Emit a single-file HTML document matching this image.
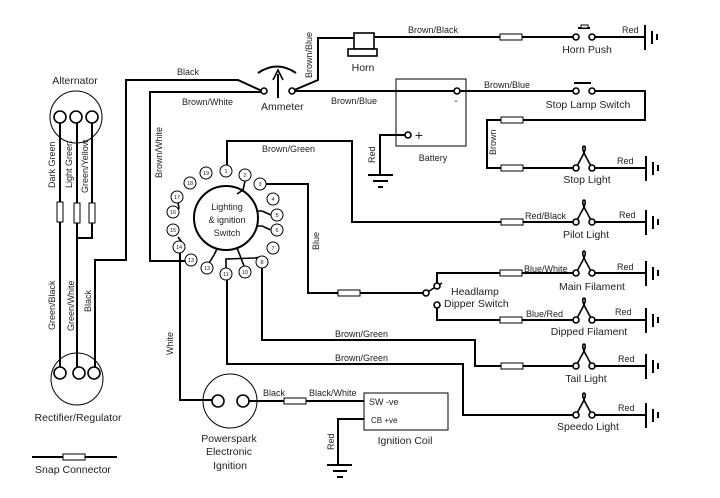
<!DOCTYPE html>
<html><head><meta charset="utf-8"><style>
html,body{margin:0;padding:0;background:#fff;}
svg{display:block;}
text{font-family:"Liberation Sans",sans-serif;fill:#222;}
.w{fill:none;stroke:#000;stroke-width:2;}
.t{fill:none;stroke:#000;stroke-width:1;}
.c{fill:#fff;stroke:#000;stroke-width:1.6;}
.p{fill:#fff;stroke:#000;stroke-width:1;}
.s{font-size:9px;}
.m{font-size:10.5px;}
.n{font-size:5.5px;}
</style></head><body>
<svg width="720" height="498" viewBox="0 0 720 498" xmlns="http://www.w3.org/2000/svg">
<defs>
<g id="gnd"><line x1="0" y1="-12" x2="0" y2="13" stroke="#000" stroke-width="2"/><line x1="7" y1="-6" x2="7" y2="7" stroke="#000" stroke-width="2"/><line x1="12" y1="-3" x2="12" y2="3" stroke="#000" stroke-width="2"/></g>
<g id="bulb"><path d="M0,0 L7,-13 Q11,-21 8,-22 Q5,-21 9,-13 L16,0" fill="none" stroke="#000" stroke-width="1.6"/><circle cx="0" cy="0" r="3" class="c"/><circle cx="16" cy="0" r="3" class="c"/></g>
<rect id="sc" x="0" y="-3" width="22" height="6" fill="#fff" stroke="#000" stroke-width="1"/>
</defs>

<!-- Alternator -->
<text x="75" y="84" class="m" text-anchor="middle">Alternator</text>
<circle cx="76" cy="117" r="26" class="t"/>
<polyline class="w" points="60,123 60,368"/>
<polyline class="w" points="77,123 77,368"/>
<polyline class="w" points="92,123 92,238 77,238"/>
<circle cx="60" cy="117" r="6" class="c"/><circle cx="76" cy="117" r="6" class="c"/><circle cx="92" cy="117" r="6" class="c"/>
<rect x="57" y="202" width="6" height="20" class="p"/><rect x="74" y="203" width="6" height="20" class="p"/><rect x="89" y="203" width="6" height="20" class="p"/>
<text transform="translate(55,188) rotate(-90)" class="s">Dark Green</text>
<text transform="translate(72,188) rotate(-90)" class="s">Light Green</text>
<text transform="translate(88,193) rotate(-90)" class="s">Green/Yellow</text>
<text transform="translate(55,330) rotate(-90)" class="s">Green/Black</text>
<text transform="translate(74,331) rotate(-90)" class="s">Green/White</text>
<text transform="translate(91,312) rotate(-90)" class="s">Black</text>

<!-- Rectifier -->
<polyline class="w" points="95,368 95,260 126,260 126,80 238,80 262,91"/>
<circle cx="77" cy="379" r="26" class="t"/>
<circle cx="60" cy="373" r="6" class="c"/><circle cx="79" cy="373" r="6" class="c"/><circle cx="94" cy="373" r="6" class="c"/>
<text x="78" y="421" class="m" text-anchor="middle">Rectifier/Regulator</text>

<!-- Snap legend -->
<line x1="32" y1="457" x2="117" y2="457" stroke="#000" stroke-width="2"/>
<rect x="63" y="454" width="22" height="6" class="p"/>
<text x="73" y="473" class="m" text-anchor="middle">Snap Connector</text>

<!-- Ammeter -->
<text x="177" y="75" class="s">Black</text>
<polyline class="w" points="262,92 150,92 150,261 186,261"/>
<text x="182" y="105" class="s">Brown/White</text>
<text transform="translate(162,178) rotate(-90)" class="s">Brown/White</text>
<path d="M258,73 Q277,60 296,73" class="w" stroke-width="1.6"/>
<line x1="278" y1="98" x2="278" y2="74" stroke="#000" stroke-width="2"/>
<path d="M273,80 L278,70 L283,80" fill="none" stroke="#000" stroke-width="1.6"/>
<text x="261" y="110" class="m">Ammeter</text>
<polyline class="w" points="292,91 318,80 318,38 354,38"/>
<text transform="translate(312,78) rotate(-90)" class="s">Brown/Blue</text>
<line x1="292" y1="91" x2="457" y2="91" stroke="#000" stroke-width="2"/>
<text x="331" y="104" class="s">Brown/Blue</text>
<circle cx="264" cy="91" r="3" class="c"/><circle cx="292" cy="91" r="3" class="c"/>

<!-- Horn -->
<rect x="354" y="33" width="20" height="16" fill="#fff" stroke="#000" stroke-width="1.6"/>
<rect x="348" y="49" width="29" height="7" fill="#fff" stroke="#000" stroke-width="1.6"/>
<text x="363" y="71" class="m" text-anchor="middle">Horn</text>
<polyline class="w" points="374,37 575,37"/>
<use href="#sc" x="500" y="37"/>
<text x="408" y="33" class="s">Brown/Black</text>
<line x1="578" y1="28" x2="590" y2="28" stroke="#000" stroke-width="2"/><rect x="581" y="25" width="7" height="3" fill="#fff" stroke="#000"/>
<circle cx="576" cy="37" r="3" class="c"/><circle cx="592" cy="37" r="3" class="c"/>
<line x1="595" y1="37" x2="645" y2="37" stroke="#000" stroke-width="2"/>
<text x="622" y="33" class="s">Red</text>
<use href="#gnd" x="645" y="37"/>
<text x="587" y="53" class="m" text-anchor="middle">Horn Push</text>

<!-- Battery -->
<rect x="396" y="79" width="70" height="67" class="t"/>
<circle cx="457" cy="91" r="3" class="c"/>
<text x="456" y="104" class="m" text-anchor="middle">-</text>
<circle cx="408" cy="135" r="3" class="c"/>
<text x="419" y="140" class="m" text-anchor="middle" style="font-size:14px">+</text>
<text x="433" y="161" class="s" text-anchor="middle">Battery</text>
<polyline class="w" points="405,135 380,135 380,175"/>
<line x1="368" y1="175" x2="393" y2="175" stroke="#000" stroke-width="2"/>
<line x1="373" y1="181" x2="388" y2="181" stroke="#000" stroke-width="2"/>
<line x1="378" y1="187" x2="383" y2="187" stroke="#000" stroke-width="2"/>
<text transform="translate(375,163) rotate(-90)" class="s">Red</text>

<!-- Stop lamp -->
<polyline class="w" points="460,91 575,91"/>
<text x="484" y="88" class="s">Brown/Blue</text>
<line x1="574" y1="83" x2="591" y2="83" stroke="#000" stroke-width="2"/>
<circle cx="576" cy="91" r="3" class="c"/><circle cx="592" cy="91" r="3" class="c"/>
<polyline class="w" points="595,91 645,91 645,120 487,120 487,168 574,168"/>
<use href="#sc" x="501" y="120"/><use href="#sc" x="501" y="168"/>
<text transform="translate(496,155) rotate(-90)" class="s">Brown</text>
<text x="588" y="108" class="m" text-anchor="middle">Stop Lamp Switch</text>
<use href="#bulb" x="576" y="168"/>
<line x1="594" y1="168" x2="645" y2="168" stroke="#000" stroke-width="2"/>
<text x="617" y="164" class="s">Red</text>
<use href="#gnd" x="646" y="168"/>
<text x="587" y="183" class="m" text-anchor="middle">Stop Light</text>

<!-- Switch -->
<circle cx="226" cy="218" r="32" fill="none" stroke="#000" stroke-width="2"/>
<text x="227" y="210" class="s" text-anchor="middle">Lighting</text>
<text x="227" y="223" class="s" text-anchor="middle">&amp; ignition</text>
<text x="227" y="236" class="s" text-anchor="middle">Switch</text>
<polyline class="w" points="227,171 227,141 352,141 352,222 576,222"/>
<use href="#sc" x="501" y="222"/>
<text x="262" y="152" class="s">Brown/Green</text>
<text x="525" y="219" class="s">Red/Black</text>
<use href="#bulb" x="576" y="222"/>
<line x1="594" y1="222" x2="645" y2="222" stroke="#000" stroke-width="2"/>
<text x="619" y="218" class="s">Red</text>
<use href="#gnd" x="646" y="222"/>
<text x="586" y="238" class="m" text-anchor="middle">Pilot Light</text>

<polyline class="w" points="260,184 308,184 308,293 424,293"/>
<use href="#sc" x="338" y="293"/>
<text transform="translate(319,250) rotate(-90)" class="s">Blue</text>
<line x1="426" y1="293" x2="442" y2="283" stroke="#000" stroke-width="1.6"/>
<polyline class="w" points="437,283 437,273 576,273"/>
<polyline class="w" points="437,307 437,320 576,320"/>
<circle cx="426" cy="293" r="3" class="c"/><circle cx="437" cy="286" r="3" class="c"/><circle cx="437" cy="305" r="3" class="c"/>
<text x="451" y="295" class="m">Headlamp</text>
<text x="444" y="307" class="m">Dipper Switch</text>
<use href="#sc" x="500" y="273"/><use href="#sc" x="500" y="320"/>
<text x="524" y="272" class="s">Blue/White</text>
<text x="526" y="317" class="s">Blue/Red</text>
<use href="#bulb" x="576" y="273"/><use href="#bulb" x="576" y="320"/>
<line x1="594" y1="273" x2="645" y2="273" stroke="#000" stroke-width="2"/>
<line x1="594" y1="320" x2="645" y2="320" stroke="#000" stroke-width="2"/>
<text x="617" y="270" class="s">Red</text><text x="615" y="315" class="s">Red</text>
<use href="#gnd" x="646" y="273"/><use href="#gnd" x="646" y="320"/>
<text x="592" y="290" class="m" text-anchor="middle">Main Filament</text>
<text x="589" y="335" class="m" text-anchor="middle">Dipped Filament</text>

<polyline class="w" points="262,262 262,340 475,340 475,366 576,366"/>
<use href="#sc" x="501" y="366"/>
<text x="335" y="337" class="s">Brown/Green</text>
<use href="#bulb" x="576" y="366"/>
<line x1="594" y1="366" x2="645" y2="366" stroke="#000" stroke-width="2"/>
<text x="618" y="362" class="s">Red</text>
<use href="#gnd" x="646" y="366"/>
<text x="586" y="382" class="m" text-anchor="middle">Tail Light</text>

<polyline class="w" points="227,275 227,364 463,364 463,415 576,415"/>
<text x="335" y="361" class="s">Brown/Green</text>
<use href="#bulb" x="576" y="415"/>
<line x1="594" y1="415" x2="645" y2="415" stroke="#000" stroke-width="2"/>
<text x="618" y="411" class="s">Red</text>
<use href="#gnd" x="646" y="415"/>
<text x="588" y="430" class="m" text-anchor="middle">Speedo Light</text>

<!-- switch internal connections -->
<g stroke="#000" stroke-width="1.6" fill="none">
<polyline points="245,181 243,190 237,194"/>
<polyline points="256,211 262,211 271,215"/>
<polyline points="256,226 262,226 271,230"/>
<polyline points="178,203 179,208 175,210"/>
<polyline points="178,237 181,241 180,241"/>
<polyline points="217,249 214,255 209,263"/>
<polyline points="237,248 241,258 244,266"/>
<polyline points="226,268 226,259 255,258 260,257"/>
</g>
<polyline class="w" points="180,253 180,400 212,400"/>
<text transform="translate(173,355) rotate(-90)" class="s">White</text>
<g class="n">
<circle cx="226" cy="171" r="6" class="p"/><text x="226" y="173" text-anchor="middle">1</text>
<circle cx="245" cy="175" r="6" class="p"/><text x="245" y="177" text-anchor="middle">2</text>
<circle cx="260" cy="184" r="6" class="p"/><text x="260" y="186" text-anchor="middle">3</text>
<circle cx="273" cy="199" r="6" class="p"/><text x="273" y="201" text-anchor="middle">4</text>
<circle cx="277" cy="215" r="6" class="p"/><text x="277" y="217" text-anchor="middle">5</text>
<circle cx="277" cy="230" r="6" class="p"/><text x="277" y="232" text-anchor="middle">6</text>
<circle cx="273" cy="248" r="6" class="p"/><text x="273" y="250" text-anchor="middle">7</text>
<circle cx="262" cy="262" r="6" class="p"/><text x="262" y="264" text-anchor="middle">8</text>
<circle cx="245" cy="272" r="6" class="p"/><text x="245" y="274" text-anchor="middle">10</text>
<circle cx="226" cy="274" r="6" class="p"/><text x="226" y="276" text-anchor="middle">11</text>
<circle cx="207" cy="268" r="6" class="p"/><text x="207" y="270" text-anchor="middle">12</text>
<circle cx="191" cy="260" r="6" class="p"/><text x="191" y="262" text-anchor="middle">13</text>
<circle cx="179" cy="247" r="6" class="p"/><text x="179" y="249" text-anchor="middle">14</text>
<circle cx="173" cy="230" r="6" class="p"/><text x="173" y="232" text-anchor="middle">15</text>
<circle cx="173" cy="212" r="6" class="p"/><text x="173" y="214" text-anchor="middle">16</text>
<circle cx="177" cy="197" r="6" class="p"/><text x="177" y="199" text-anchor="middle">17</text>
<circle cx="190" cy="183" r="6" class="p"/><text x="190" y="185" text-anchor="middle">18</text>
<circle cx="206" cy="173" r="6" class="p"/><text x="206" y="175" text-anchor="middle">19</text>
</g>

<!-- Powerspark -->
<circle cx="230" cy="401" r="27" class="t"/>
<line x1="249" y1="401" x2="364" y2="401" stroke="#000" stroke-width="2"/>
<circle cx="218" cy="401" r="6" class="c"/><circle cx="243" cy="401" r="6" class="c"/>
<use href="#sc" x="284" y="401"/>
<text x="263" y="396" class="s">Black</text>
<text x="309" y="396" class="s">Black/White</text>
<text x="229" y="442" class="m" text-anchor="middle">Powerspark</text>
<text x="229" y="455" class="m" text-anchor="middle">Electronic</text>
<text x="230" y="469" class="m" text-anchor="middle">Ignition</text>

<!-- Coil -->
<rect x="364" y="393" width="84" height="37" class="t"/>
<text x="369" y="405" class="s">SW -ve</text>
<text x="371" y="423" class="s" style="font-size:8px">CB +ve</text>
<text x="405" y="444" class="m" text-anchor="middle">Ignition Coil</text>
<polyline class="w" points="364,419 338,419 338,465"/>
<line x1="327" y1="465" x2="352" y2="465" stroke="#000" stroke-width="2"/>
<line x1="333" y1="471" x2="347" y2="471" stroke="#000" stroke-width="2"/>
<line x1="337" y1="477" x2="343" y2="477" stroke="#000" stroke-width="2"/>
<text transform="translate(334,450) rotate(-90)" class="s">Red</text>
</svg>
</body></html>
